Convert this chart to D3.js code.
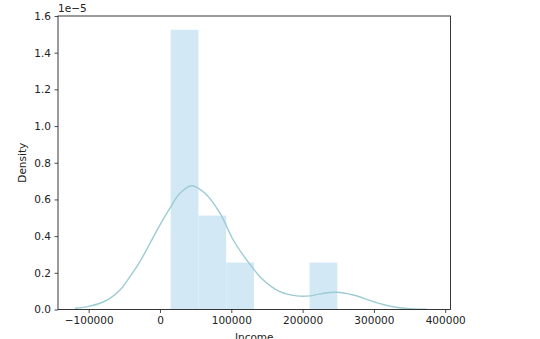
<!DOCTYPE html>
<html><head><meta charset="utf-8">
<script src="https://cdn.jsdelivr.net/npm/d3@7"></script>
<style>body{margin:0;background:#fff}svg{display:block}text{font-family:"DejaVu Sans",sans-serif}</style>
</head><body>
<svg id="c" width="540" height="339"></svg>
<script>
// Histogram bins (Income edges) and density values (x 1e-5)
const binEdges = [15000, 53950, 92900, 131850, 170800, 209750, 248700];
const binDensity = [1.525, 0.512, 0.256, 0, 0, 0.256];
// KDE curve: income, density (x 1e-5)
const kdeX = [-119200,-100000,-84150,-70100,-56100,-42100,-28100,-14000,0,14000,28000,44500,63100,84200,102800,121600,144900,168300,191700,210400,224400,247800,271100,299200,327200,355300,374000];
const kdeY = [0.0065,0.017,0.034,0.061,0.106,0.179,0.261,0.361,0.461,0.552,0.634,0.675,0.634,0.525,0.379,0.270,0.161,0.097,0.074,0.074,0.085,0.094,0.079,0.043,0.015,0.003,0.001];
const xTicks = [-100000,0,100000,200000,300000,400000];
const yTicks = [0,0.2,0.4,0.6,0.8,1.0,1.2,1.4,1.6];

const svg = d3.select("#c");
const L=58, R=450.5, T=16, B=309.5;
const x = d3.scaleLinear().domain([-143000, 407400]).range([L,R]);
const y = d3.scaleLinear().domain([0,1.6]).range([B,T]);

// bars
svg.append("g").selectAll("rect").data(binDensity).join("rect")
  .attr("x",(d,i)=>x(binEdges[i]))
  .attr("width",(d,i)=>x(binEdges[i+1])-x(binEdges[i]))
  .attr("y",d=>y(d)).attr("height",d=>B-y(d))
  .attr("fill","#d3e8f5");

// kde
const pts = kdeX.map((v,i)=>[v,kdeY[i]]);
svg.append("path").datum(pts)
  .attr("d", d3.line().x(d=>x(d[0])).y(d=>y(d[1])).curve(d3.curveCatmullRom.alpha(0.5)))
  .attr("fill","none").attr("stroke","#9ccbd3").attr("stroke-width",1.4);

// axes
const fs = "10.5px";
const xa = svg.append("g").attr("transform",`translate(0,${B})`)
  .call(d3.axisBottom(x).tickValues(xTicks).tickSize(3.5).tickPadding(3.5).tickFormat(d=>d<0?"\u2212"+(-d):String(d)));
const ya = svg.append("g").attr("transform",`translate(${L},0)`)
  .call(d3.axisLeft(y).tickValues(yTicks).tickSize(3.5).tickPadding(3.5).tickFormat(d3.format(".1f")));
[xa,ya].forEach(a=>{a.select(".domain").remove();a.selectAll("text").attr("font-size",fs).attr("fill","#222").attr("font-family","DejaVu Sans");a.selectAll("line").attr("stroke","#222").attr("stroke-width",0.8);});

// frame
svg.append("rect").attr("x",L).attr("y",T).attr("width",R-L).attr("height",B-T)
  .attr("fill","none").attr("stroke","#222").attr("stroke-width",0.9);

// labels
svg.append("text").attr("x",L).attr("y",T-4).attr("font-size",fs).attr("fill","#222").text("1e\u22125");
svg.append("text").attr("transform",`translate(26,${(T+B)/2}) rotate(-90)`).attr("text-anchor","middle")
  .attr("font-size",fs).attr("fill","#222").text("Density");
svg.append("text").attr("x",(L+R)/2).attr("y",341).attr("text-anchor","middle")
  .attr("font-size",fs).attr("fill","#222").text("Income");
</script>
</body></html>
